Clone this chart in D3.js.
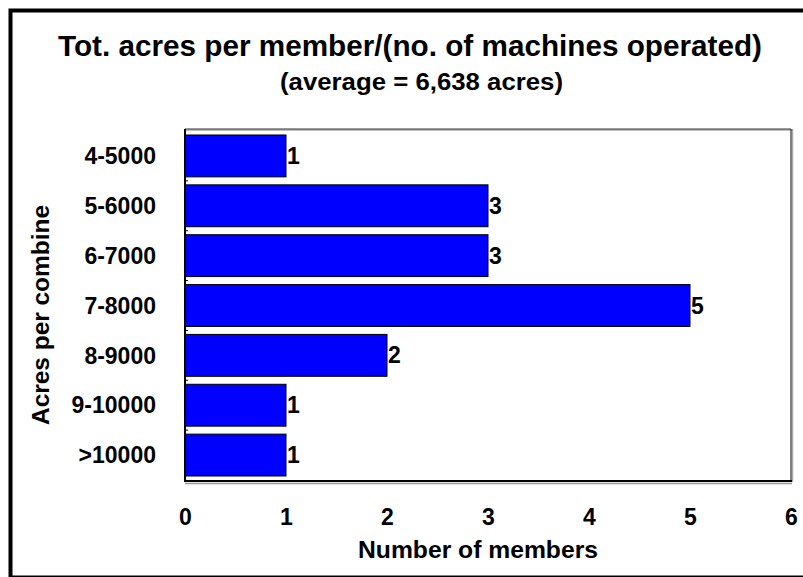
<!DOCTYPE html>
<html><head><meta charset="utf-8">
<script src="https://cdn.jsdelivr.net/npm/d3@7"></script>
<style>body{margin:0;background:#fff}svg{display:block}text{font-family:Arial,"Liberation Sans",sans-serif;font-weight:bold;fill:#000}</style>
</head><body><svg id="c" width="803" height="577"></svg>
<script>
const categories = ["4-5000","5-6000","6-7000","7-8000","8-9000","9-10000",">10000"];
const members = [1,3,3,5,2,1,1];
const xTicks = [0,1,2,3,4,5,6];
const titleText = "Tot. acres per member/(no. of machines operated)";
const subtitleText = "(average = 6,638 acres)";
const xTitle = "Number of members";
const yTitle = "Acres per combine";

const svg = d3.select("#c");
svg.append("rect").attr("x",10.5).attr("y",10.5).attr("width",800).attr("height",567)
  .attr("fill","#fff").attr("stroke","#000").attr("stroke-width",4);

const L=185, R=791, T=129, B=481;
const x = d3.scaleLinear().domain([0,6]).range([L,R]);
const y = d3.scaleBand().domain(categories).range([131,480]).paddingInner(0.16).paddingOuter(0.08);

svg.append("line").attr("x1",L).attr("x2",R+1).attr("y1",T+1).attr("y2",T+1).attr("stroke","#aaa").attr("stroke-width",1.5);
svg.append("line").attr("x1",R+1.5).attr("x2",R+1.5).attr("y1",T).attr("y2",B+1).attr("stroke","#aaa").attr("stroke-width",1.5);
svg.append("line").attr("x1",L).attr("x2",R).attr("y1",T).attr("y2",T).attr("stroke","#333").attr("stroke-width",1.2);
svg.append("line").attr("x1",R).attr("x2",R).attr("y1",T).attr("y2",B).attr("stroke","#333").attr("stroke-width",1.2);

svg.append("g").selectAll("rect").data(categories).join("rect")
  .attr("x",x(0)).attr("y",d=>y(d)).attr("width",(d,i)=>x(members[i])-x(0)).attr("height",y.bandwidth())
  .attr("fill","#0000ff").attr("stroke","#000").attr("stroke-width",1);

svg.append("g").selectAll("text").data(categories).join("text")
  .attr("x",(d,i)=>x(members[i])+1).attr("y",d=>y(d)+y.bandwidth()/2+8)
  .style("font-size","23px").text((d,i)=>members[i]);

const gy = svg.append("g").attr("transform",`translate(${L},0)`).call(d3.axisLeft(y).tickSize(0).tickPadding(29));
gy.select(".domain").remove();
gy.selectAll("text").attr("dy","0.36em").style("font-size","23px").style("font-family","Arial,'Liberation Sans',sans-serif").style("font-weight","bold").attr("fill","#000");
svg.append("g").selectAll("line").data(categories.slice(1)).join("line")
  .attr("x1",L).attr("x2",L+3).attr("y1",d=>y(d)-y.step()*y.paddingInner()/2).attr("y2",d=>y(d)-y.step()*y.paddingInner()/2)
  .attr("stroke","#000");
svg.append("line").attr("x1",L).attr("x2",L).attr("y1",T).attr("y2",B+1).attr("stroke","#000").attr("stroke-width",2);

svg.append("line").attr("x1",L).attr("x2",R+1).attr("y1",B+2.5).attr("y2",B+2.5).attr("stroke","#999").attr("stroke-width",1.5);
svg.append("line").attr("x1",L-1).attr("x2",R+1).attr("y1",B).attr("y2",B).attr("stroke","#000").attr("stroke-width",2);
const gx = svg.append("g").attr("transform",`translate(0,${B})`).call(d3.axisBottom(x).tickValues(xTicks).tickSize(0).tickPadding(28).tickFormat(d3.format("d")));
gx.select(".domain").remove();
gx.selectAll("text").style("font-size","23px").style("font-family","Arial,'Liberation Sans',sans-serif").style("font-weight","bold").attr("fill","#000");

svg.append("text").attr("x",410).attr("y",56).attr("text-anchor","middle").style("font-size","29px")
  .attr("textLength",704).attr("lengthAdjust","spacingAndGlyphs").text(titleText);
svg.append("text").attr("x",421.5).attr("y",90).attr("text-anchor","middle").style("font-size","23px")
  .attr("textLength",283).attr("lengthAdjust","spacingAndGlyphs").text(subtitleText);
svg.append("text").attr("x",478).attr("y",558).attr("text-anchor","middle").style("font-size","24px")
  .attr("textLength",240).attr("lengthAdjust","spacingAndGlyphs").text(xTitle);
svg.append("text").attr("transform","translate(49,315) rotate(-90)").attr("text-anchor","middle").style("font-size","24px")
  .attr("textLength",220).attr("lengthAdjust","spacingAndGlyphs").text(yTitle);
</script></body></html>
